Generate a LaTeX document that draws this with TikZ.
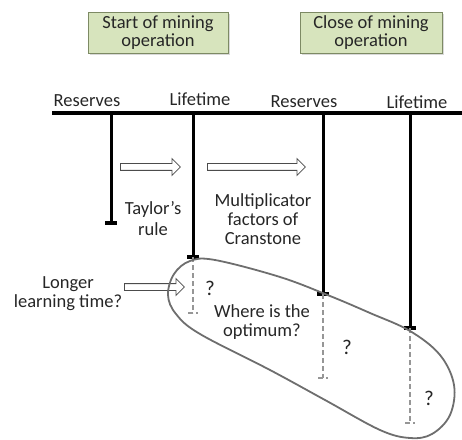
\documentclass[tikz,border=0pt]{standalone}
\usepackage{fontspec}
\setmainfont{Carlito}
\usetikzlibrary{positioning}
\usetikzlibrary{shapes.arrows}
\usetikzlibrary{shadows}
\definecolor{boxfill}{RGB}{215,228,189}
\definecolor{boxline}{RGB}{125,138,100}
\definecolor{guessgray}{RGB}{150,150,150}
\definecolor{ringgray}{RGB}{110,110,110}
\newcommand\lblfont{\fontsize{18.5}{19}\selectfont}

\begin{document}
\begin{tikzpicture}[x=1pt,y=1pt]
	\tikzset{
	  pics/endbar/.style={code={
		\draw[#1] (-6,0) -- (6,0) ;
		},
	  },
	  phase/.style={draw=boxline,fill=boxfill,line width=0.8pt,minimum width=140pt,
		minimum height=41pt,inner sep=0pt,align=center,font=\fontsize{18.5}{18.5}\selectfont,
		text=black!85,drop shadow={shadow xshift=2pt,shadow yshift=-2pt,opacity=0.3}},
	  lbl/.style={text=black!85,align=center,font=\lblfont,inner sep=0pt},
	  axis/.style={line width=3.2pt},
	  bar/.style={line width=3pt},
	  guess/.style={guessgray,line width=1.4pt,dash pattern=on 5pt off 3pt},
	  hollow/.style={single arrow,draw=black!70,fill=white,line width=0.8pt,inner sep=3pt,
		inner xsep=0pt,minimum width=0pt,single arrow head extend=5pt,anchor=tail},
	  ring/.style={ringgray,line width=1.8pt}
	}
	\useasboundingbox (0,0) rectangle (462,439);
	%PHASE BOXES
	\node[phase] (start) at (158,406.5) {Start of mining\\operation};
	\node[phase,minimum width=142pt] (close) at (371,406.5) {Close of mining\\operation};
	%AXIS
	\coordinate (axisL) at (52,326);
	\coordinate (axisR) at (462,326);
	\draw[axis] (axisL) -- (axisR);
	\node[lbl,anchor=base] (res1) at (87,332) {Reserves};
	\node[lbl,anchor=base] (life1) at (200,333) {Lifetime};
	\node[lbl,anchor=base] (res2) at (304,331) {Reserves};
	\node[lbl,anchor=base] (life2) at (417,330) {Lifetime};
	%BARS
	\foreach \n/\x/\y in {r1/111/216,l1/193/182,r2/323/145,l2/410/111}{
	  \coordinate (\n-top) at (\x,326);
	  \coordinate (\n-end) at (\x,\y);
	  \draw[bar] (\n-top) -- (\n-end) pic {endbar={line width=3.5pt}};
	}
	%DASHED GUESSES
	\foreach \n/\x/\y in {l1/193/126,r2/323/61,l2/410/16}{
	  \coordinate (\n-guess) at (\x,\y);
	  \draw[guess] (\n-end) -- (\n-guess) pic {endbar={guessgray,line width=1.2pt,xscale=0.8}};
	}
	%ARROWS
	\node[hollow,minimum height=60pt] (step1) at (120,272) {};
	\node[hollow,minimum height=98pt] (step2) at (207,272) {};
	\node[hollow,minimum height=60pt] (step3) at (124,152) {};
	%TEXTS
	\node[lbl,font=\fontsize{18.5}{21}\selectfont] (taylor) at (153,220.5) {Taylor’s\\rule};
	\node[lbl] (cranstone) at (263,220) {Multiplicator\\factors of\\Cranstone};
	\node[lbl] (learn) at (68,145.5) {Longer\\learning time?};
	\node[lbl] (optimum) at (262,116.5) {Where is the\\optimum?};
	\node[lbl,font=\fontsize{21}{21}\selectfont] (q1) at (210,151) {?};
	\node[lbl,font=\fontsize{21}{21}\selectfont] (q2) at (347,92) {?};
	\node[lbl,font=\fontsize{21}{21}\selectfont] (q3) at (429,41) {?};
	%RING
	\draw[ring] plot[smooth cycle,tension=0.6] coordinates {
	  (168,144) (174,165) (190,178) (215,179) (280,162) (330,143) (370,126)
	  (410,108) (440,84) (454,54) (450,24) (432,5) (410,1) (380,9)
	  (325,39) (270,69) (200,105) (176,125)};
\end{tikzpicture}
\end{document}
